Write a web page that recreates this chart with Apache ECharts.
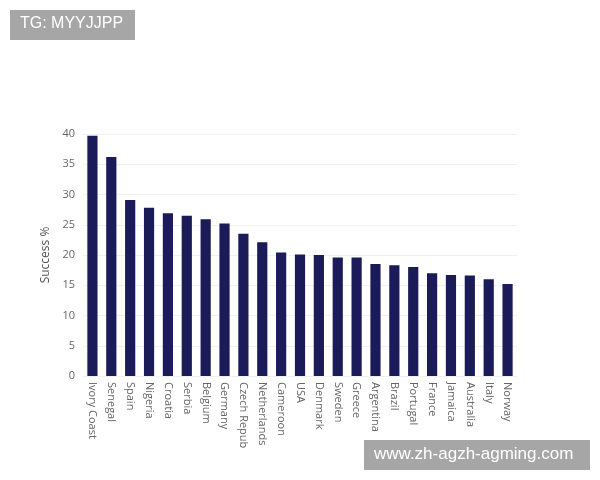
<!DOCTYPE html>
<html><head><meta charset="utf-8">
<script src="https://cdn.jsdelivr.net/npm/echarts@6/dist/echarts.min.js"></script>
<style>html,body{margin:0;padding:0;background:#fff}#c{width:600px;height:480px}</style>
</head><body><div id="c"></div>
<script>
const categories = ["Ivory Coast","Senegal","Spain","Nigeria","Croatia","Serbia","Belgium","Germany","Czech Repub","Netherlands","Cameroon","USA","Denmark","Sweden","Greece","Argentina","Brazil","Portugal","France","Jamaica","Australia","Italy","Norway"];
const successPct = [39.7,36.2,29.1,27.8,26.9,26.5,25.9,25.2,23.5,22.1,20.4,20.1,20.0,19.6,19.6,18.5,18.3,18.0,17.0,16.7,16.6,16.0,15.2];
const yTicks = [0,5,10,15,20,25,30,35,40];
const watermarkTop = "TG: MYYJJPP";
const watermarkBottom = "www.zh-agzh-agming.com";

const chart = echarts.init(document.getElementById('c'));
chart.setOption({
  animation:false,
  grid:{left:83,right:83,top:134,bottom:104},
  xAxis:{type:'category',data:categories,
    axisLine:{show:false},axisTick:{show:false},
    axisLabel:{rotate:-90,interval:0,color:'#666',fontFamily:'Open Sans',fontSize:11,margin:6}},
  yAxis:{type:'value',min:yTicks[0],max:yTicks[yTicks.length-1],interval:5,
    name:'Success %',nameLocation:'middle',nameGap:26,
    nameTextStyle:{color:'#555',fontFamily:'Open Sans',fontSize:12},
    axisLine:{show:false},axisTick:{show:false},
    axisLabel:{color:'#666',fontFamily:'Open Sans',fontSize:11,margin:8},
    splitLine:{lineStyle:{color:'#f0f0f0',width:1}}},
  series:[{type:'bar',data:successPct,barCategoryGap:'46%',
    itemStyle:{color:'#1a1b58'}}],
  graphic:[
    {type:'rect',left:10,top:10,shape:{width:125,height:30},style:{fill:'#a6a6a6'}},
    {type:'text',left:20,top:16,style:{text:watermarkTop,fill:'#fff',font:'16px "Liberation Sans", Arial'}},
    {type:'rect',left:364,top:440,shape:{width:226,height:30},style:{fill:'#a6a6a6'}},
    {type:'text',left:374,top:446,style:{text:watermarkBottom,fill:'#fff',font:'17px "Liberation Sans", Arial'}}
  ]
});
</script></body></html>
